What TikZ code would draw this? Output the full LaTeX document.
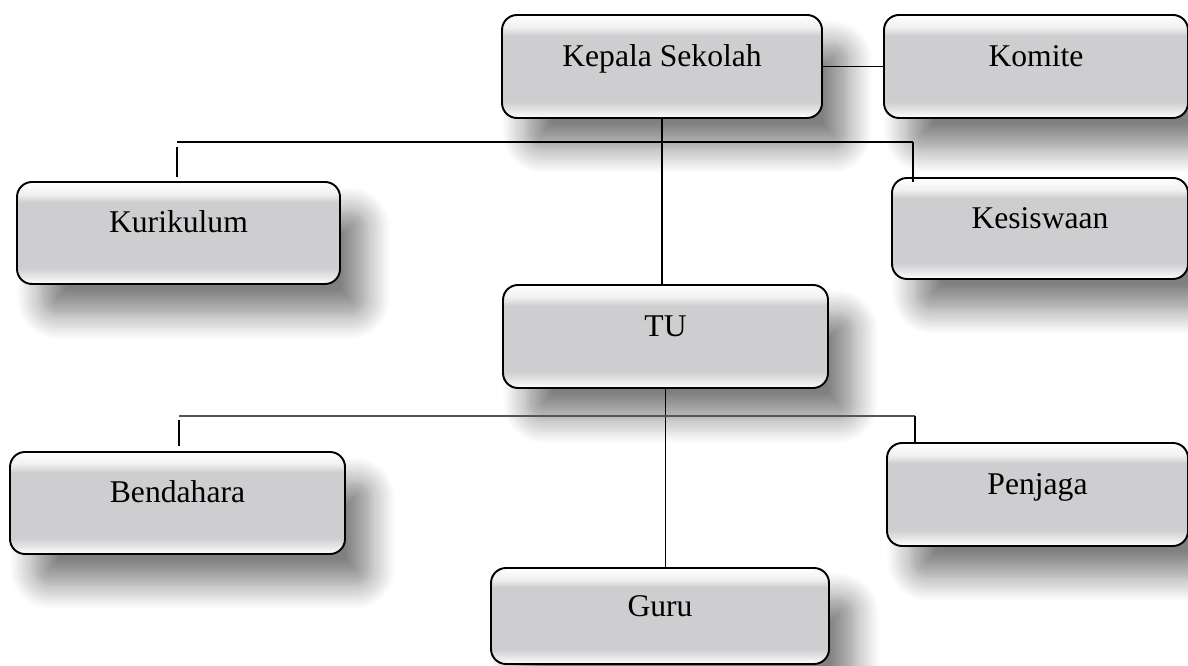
\documentclass[tikz,border=0pt]{standalone}
\usepackage{fontspec}
\setmainfont{Liberation Serif}
\usetikzlibrary{shadows.blur}
\definecolor{boxgray}{RGB}{206,205,207}
\definecolor{linegray}{RGB}{85,85,85}
\pgfdeclareverticalshading{bevel}{100bp}{color(0bp)=(white); color(25bp)=(white); color(28bp)=(white!60!boxgray); color(33bp)=(boxgray); color(65bp)=(boxgray); color(69bp)=(white!70!boxgray); color(75bp)=(white); color(100bp)=(white)}
\begin{document}
\begin{tikzpicture}[line width=0.6pt,
  box/.style={draw, line width=1.1pt, rounded corners=0.3cm, shading=bevel,
    blur shadow={shadow xshift=0.5cm, shadow yshift=-0.6cm, shadow blur radius=0.5cm, shadow blur steps=12, shadow opacity=50},
    text height=0.3cm, text depth=0.3cm, font=\fontsize{18}{21}\selectfont},
  lowline/.style={draw=linegray, line width=0.8pt}]
            \useasboundingbox (0, 0) rectangle (23.76, -13.32);
            \node[box, minimum width=6.4cm, minimum height=2.06cm] (kepala) at (13.24, -1.33) {Kepala Sekolah};
            \node[box, minimum width=6.08cm, minimum height=2.06cm] (komite) at (20.72, -1.33) {Komite};
            \node[box, minimum width=6.46cm, minimum height=2.04cm] (kurikulum) at (3.57, -4.66) {Kurikulum};
            \node[box, minimum width=5.92cm, minimum height=2.02cm] (kesiswaan) at (20.8, -4.57) {Kesiswaan};
            \node[box, minimum width=6.5cm, minimum height=2.06cm] (tu) at (13.31, -6.73) {TU};
            \node[box, minimum width=6.7cm, minimum height=2.04cm] (bendahara) at (3.55, -10.06) {Bendahara};
            \node[box, minimum width=6.02cm, minimum height=2.06cm] (penjaga) at (20.75, -9.89) {Penjaga};
            \node[box, minimum width=6.76cm, minimum height=1.92cm] (guru) at (13.2, -12.32) {Guru};
            \coordinate (atasL) at (3.54, -2.84);
            \coordinate (atasR) at (18.26, -2.84);
            \coordinate (bawahL) at (3.58, -8.32);
            \coordinate (bawahR) at (18.3, -8.32);
            \draw (kepala.east) -- (komite.west);
            \draw (kepala.south) -- (kepala.south |- tu.north);
            \draw (atasL) -- (atasR);
            \draw ([yshift=-0.1cm]atasL) -- ([yshift=0.08cm]atasL |- kurikulum.north);
            \draw (atasR) -- ([yshift=-0.1cm]atasR |- kesiswaan.north);
            \draw (tu.south) -- (tu.south |- guru.north);
            \draw[lowline] (bawahL) -- (bawahR);
            \draw ([yshift=-0.08cm]bawahL) -- ([yshift=0.1cm]bawahL |- bendahara.north);
            \draw (bawahR) -- (bawahR |- penjaga.north);
        \end{tikzpicture}
\end{document}
